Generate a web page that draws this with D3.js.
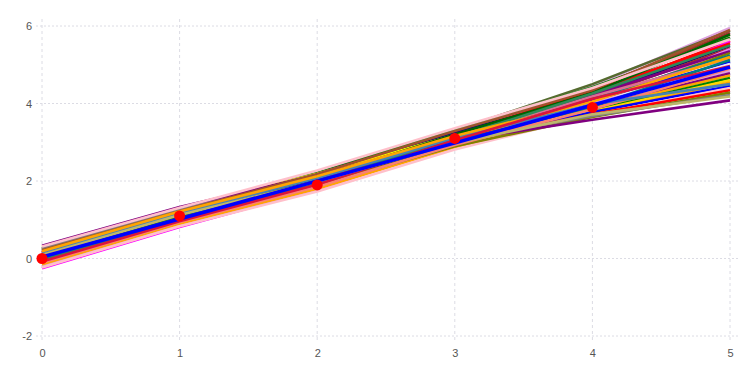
<!DOCTYPE html>
<head>
  <meta charset="utf-8">
  <script src="https://d3js.org/d3.v7.min.js"></script>
  <style>
    body { margin:0; background:#fff; }
    svg { display:block; }
    .tick text { font-family: "Liberation Sans", Arial, sans-serif; font-size: 11px; fill: #555; }
  </style>
</head>
<body>
<script>
  var width = 756, height = 378;

  // observed points
  var pointX = [0, 1, 2, 3, 4];
  var pointY = [0, 1.1, 1.9, 3.1, 3.9];

  // fitted line (value at x=0 and x=5)
  var fitX = [0, 5];
  var fitY = [0.04, 4.94];

  // resampled lines: value at x = 0..5 for each line
  var lineX = [0, 1, 2, 3, 4, 5];
  var lineValues = [
    [-0.17, 0.88, 1.89, 3.14, 4.45, 5.95],
    [ 0.10, 1.13, 2.12, 3.30, 4.50, 5.88],
    [ 0.17, 1.19, 2.15, 3.28, 4.38, 5.82],
    [ 0.00, 1.04, 2.01, 3.17, 4.30, 5.76],
    [ 0.23, 1.24, 2.21, 3.33, 4.42, 5.70],
    [ 0.15, 1.17, 2.12, 3.22, 4.25, 5.62],
    [-0.25, 0.81, 1.78, 2.96, 4.10, 5.60],
    [ 0.03, 1.06, 2.03, 3.19, 4.33, 5.55],
    [ 0.25, 1.26, 2.19, 3.25, 4.20, 5.48],
    [-0.12, 0.97, 1.93, 3.07, 4.15, 5.42],
    [-0.22, 0.84, 1.78, 2.92, 3.95, 5.40],
    [ 0.13, 1.15, 2.10, 3.20, 4.22, 5.35],
    [-0.13, 0.92, 1.86, 3.00, 4.05, 5.30],
    [ 0.20, 1.22, 2.14, 3.19, 4.12, 5.24],
    [-0.03, 1.01, 1.96, 3.10, 4.18, 5.17],
    [ 0.07, 1.10, 2.03, 3.11, 4.08, 5.08],
    [-0.10, 0.95, 1.88, 3.00, 4.00, 5.02],
    [ 0.30, 1.31, 2.19, 3.18, 3.95, 4.90],
    [-0.20, 0.86, 1.80, 2.95, 4.02, 4.84],
    [ 0.15, 1.17, 2.07, 3.08, 3.90, 4.78],
    [ 0.25, 1.26, 2.14, 3.12, 3.88, 4.72],
    [-0.05, 0.99, 1.89, 2.95, 3.82, 4.66],
    [ 0.11, 1.13, 2.02, 3.02, 3.80, 4.60],
    [-0.15, 0.90, 1.80, 2.87, 3.75, 4.54],
    [ 0.05, 1.08, 1.97, 2.98, 3.78, 4.45],
    [-0.23, 0.83, 1.73, 2.81, 3.70, 4.40],
    [ 0.17, 1.19, 2.05, 3.02, 3.72, 4.34],
    [-0.01, 1.03, 1.90, 2.90, 3.65, 4.28],
    [ 0.27, 1.28, 2.13, 3.05, 3.68, 4.22],
    [ 0.33, 1.33, 2.16, 3.04, 3.58, 4.08],
    [-0.11, 0.94, 1.85, 2.93, 3.85, 4.90],
    [ 0.08, 1.11, 2.07, 3.20, 4.28, 5.78],
    [ 0.01, 1.04, 1.96, 3.02, 3.92, 5.12],
    [ 0.21, 1.22, 2.18, 3.29, 4.35, 5.90],
    [ 0.31, 1.31, 2.27, 3.36, 4.40, 5.66],
    [-0.05, 0.99, 1.96, 3.12, 4.26, 5.50],
    [ 0.14, 1.16, 2.07, 3.11, 3.98, 4.50],
    [ 0.19, 1.21, 2.12, 3.16, 4.05, 5.20],
    [-0.08, 0.96, 1.91, 3.05, 4.12, 4.97],
    [ 0.09, 1.12, 1.99, 2.98, 3.72, 4.18]
  ];
  var lineColor = ["plum", "darkolivegreen", "brown", "pink", "green", "red", "magenta", "red", "navy", "brown",
                   "violet", "purple", "olive", "teal", "palevioletred", "blue", "lavender", "yellow", "plum", "purple",
                   "orange", "green", "gold", "orange", "blue", "pink", "red", "olive", "gray", "purple",
                   "salmon", "darkgreen", "teal", "sienna", "pink", "seagreen", "steelblue", "orange", "crimson", "darkkhaki"];

  var xTicks = [0, 1, 2, 3, 4, 5];
  var yTicks = [-2, 0, 2, 4, 6];

  var x = d3.scaleLinear().domain([0, 5]).range([42, 730]);
  var y = d3.scaleLinear().domain([-2, 6]).range([336, 26]);

  var svg = d3.select("body").append("svg")
    .attr("width", width).attr("height", height);

  // grid
  svg.append("g").selectAll("line")
    .data(yTicks).enter().append("line")
    .attr("x1", x(0) - 6).attr("x2", x(5) + 8)
    .attr("y1", function(d) { return y(d); }).attr("y2", function(d) { return y(d); })
    .attr("stroke", "#dcdce4").attr("stroke-width", 1).attr("stroke-dasharray", "2,2");
  svg.append("g").selectAll("line")
    .data(xTicks).enter().append("line")
    .attr("x1", function(d) { return x(d); }).attr("x2", function(d) { return x(d); })
    .attr("y1", y(6) - 7).attr("y2", y(-2) + 6)
    .attr("stroke", "#dcdce4").attr("stroke-width", 1).attr("stroke-dasharray", "3,3");

  // axes (labels only)
  svg.append("g")
    .attr("transform", "translate(32,0)")
    .call(d3.axisLeft(y).tickValues(yTicks).tickSize(0).tickPadding(0)
      .tickFormat(function(d) { return String(d); }));
  svg.append("g")
    .attr("transform", "translate(0," + (y(-2) + 10) + ")")
    .call(d3.axisBottom(x).tickValues(xTicks).tickSize(0).tickPadding(3)
      .tickFormat(function(d) { return String(d); }));
  svg.selectAll(".domain").remove();

  // resampled lines
  var line = d3.line()
    .x(function(d, i) { return x(lineX[i]); })
    .y(function(d) { return y(d); });

  svg.append("g").selectAll("path")
    .data(lineValues).enter().append("path")
    .attr("d", line)
    .attr("fill", "none")
    .attr("stroke", function(d, i) { return lineColor[i]; })
    .attr("stroke-width", 2.6)
    .attr("stroke-linejoin", "round");

  // fitted line
  var fitLine = d3.line()
    .x(function(d, i) { return x(fitX[i]); })
    .y(function(d) { return y(d); });
  svg.append("path")
    .attr("d", fitLine(fitY))
    .attr("fill", "none")
    .attr("stroke", "blue").attr("stroke-width", 3.5);

  // points
  svg.append("g").selectAll("circle")
    .data(pointX).enter().append("circle")
    .attr("cx", function(d) { return x(d); })
    .attr("cy", function(d, i) { return y(pointY[i]); })
    .attr("r", 5.5)
    .attr("fill", "red");
</script>
</body>
